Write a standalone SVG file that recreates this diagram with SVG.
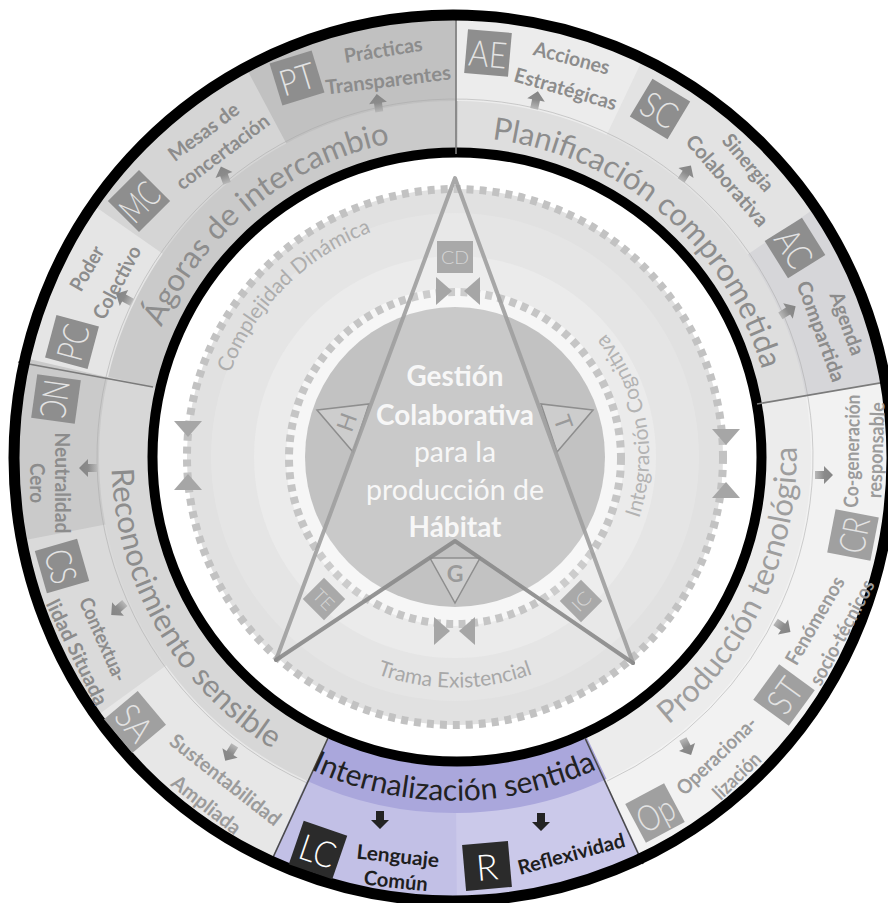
<svg xmlns="http://www.w3.org/2000/svg" width="888" height="903" viewBox="0 0 888 903">
<defs>
<style>
text{font-family:Lato,"Open Sans","Liberation Sans",sans-serif}
.ttl{font-size:31px;font-weight:400;fill:#8d8d8d}
.ttl-lt{fill:#9e9e9e}
.ttl-dk{fill:#222222;font-size:30px}
.itm{font-size:20px;font-weight:700;fill:#8c8c8c;text-anchor:middle;dominant-baseline:central}
.itm-lt{fill:#9b9b9b}
.itm-dk{fill:#1e1e1e}
.bx{fill:#8e8e8e}
.bx-lt{fill:#a0a0a0}
.bx-dk{fill:#2b2b2b}
.bxt{font-size:36px;font-weight:300;fill:#e3e3e3;text-anchor:middle;dominant-baseline:central}
.bxt-dk{fill:#ffffff}
.inlbl{font-size:21px;fill:#adadad}
.core{font-size:28px;fill:#f7f7f7;text-anchor:middle}
.div{stroke:#7b7b7b;stroke-width:1.6}
.div-dk{stroke:#4a4a4a}
.ringarr{fill:#a6a6a6}
.arr{fill:url(#stemGrad)}
.arr-dk{fill:#232323}
.tri{fill:#cdcdcd;stroke:#8e8e8e;stroke-width:1.5}
.tril{font-size:23px;fill:#9a9a9a;text-anchor:middle;dominant-baseline:central}
.minibx{fill:#a9a9a9}
.minit{font-size:18px;font-weight:300;fill:#d6d6d6;text-anchor:middle;dominant-baseline:central}
</style>
<clipPath id="outerClip"><ellipse cx="453" cy="458" rx="436" ry="440"/></clipPath>
<linearGradient id="stemGrad" x1="0" y1="0" x2="0" y2="1">
<stop offset="0" stop-color="#858585"/>
<stop offset="0.5" stop-color="#8b8b8b"/>
<stop offset="1" stop-color="#b8b8b8"/>
</linearGradient>
<path id="arrowShape" d="M0,-9 L9,0 L4,0 L4,9 L-4,9 L-4,0 L-9,0 Z"/>
<!-- text baselines: clockwise arcs start at 180deg, counter-clockwise arcs start at 200deg -->
<path id="pTitleCW" d="M -320 0 A 320 320 0 1 1 320 0 A 320 320 0 1 1 -320 0"/>
<path id="pTitleCCW" d="M -321.37 -116.97 A 342 342 0 1 0 321.37 116.97 A 342 342 0 1 0 -321.37 -116.97"/>
<path id="pInCW" d="M -240 0 A 240 240 0 1 1 240 0 A 240 240 0 1 1 -240 0"/>
<path id="pInCCW194" d="M -182.30 -66.35 A 194 194 0 1 0 182.30 66.35 A 194 194 0 1 0 -182.30 -66.35"/>
<path id="pInCCW230" d="M -216.13 -78.66 A 230 230 0 1 0 216.13 78.66 A 230 230 0 1 0 -216.13 -78.66"/>
</defs>

<rect width="888" height="903" fill="#ffffff"/>

<!-- outer ring: item bands (wedges drawn as dashed wide strokes, 1deg = 3.927px) -->
<g id="ring-bands" clip-path="url(#outerClip)">
<g transform="translate(453,457)" fill="none" stroke-width="450">
<circle r="225" stroke="#e5e5e5" stroke-dasharray="89.53 3000" transform="rotate(192.4)"/>
<circle r="225" stroke="#d5d5d5" stroke-dasharray="107.6 3000" transform="rotate(215)"/>
<circle r="225" stroke="#c1c1c1" stroke-dasharray="113.5 3000" transform="rotate(242)"/>
<circle r="225" stroke="#ececec" stroke-dasharray="99.75 3000" transform="rotate(270.5)"/>
<circle r="225" stroke="#e3e3e3" stroke-dasharray="119.38 3000" transform="rotate(295.5)"/>
<circle r="225" stroke="#d6d6d9" stroke-dasharray="98.57 3000" transform="rotate(325.5)"/>
<circle r="225" stroke="#f2f2f2" stroke-dasharray="294.52 3000" transform="rotate(350.2)"/>
<circle r="225" stroke="#cbc9ea" stroke-dasharray="98.57 3000" transform="rotate(64.8)"/>
<circle r="225" stroke="#c2c0e6" stroke-dasharray="98.96 3000" transform="rotate(89.5)"/>
<circle r="225" stroke="#e7e7e7" stroke-dasharray="118.2 3000" transform="rotate(114.3)"/>
<circle r="225" stroke="#dadada" stroke-dasharray="99.75 3000" transform="rotate(144)"/>
<circle r="225" stroke="#cacaca" stroke-dasharray="94.25 3000" transform="rotate(169)"/>
</g>
</g>

<!-- outer ring: title bands (1deg = 3.1067px) -->
<g id="title-bands" transform="translate(455,457)" fill="none" stroke-width="356">
<circle r="178" stroke="#cacaca" stroke-dasharray="243.25 3000" transform="rotate(192.6)"/>
<circle r="178" stroke="#dedede" stroke-dasharray="248.85 3000" transform="rotate(270.5)"/>
<circle r="178" stroke="#ececec" stroke-dasharray="233.0 3000" transform="rotate(350.2)"/>
<circle r="178" stroke="#aaa7dc" stroke-dasharray="155.02 3000" transform="rotate(64.8)"/>
<circle r="178" stroke="#d7d7d7" stroke-dasharray="244.5 3000" transform="rotate(114.3)"/>
<circle r="358" stroke="#a9a9a9" stroke-width="0.8" opacity="0.6" stroke-dasharray="1940 400" transform="rotate(114.3)"/>
</g>

<!-- inner field and ring outlines -->
<circle cx="457" cy="457" r="304.5" fill="#ffffff" stroke="#000000" stroke-width="10"/>

<g id="dividers">
<line class="div" x1="456" y1="154" x2="456" y2="16"/>
<line class="div" x1="153" y1="387" x2="18" y2="362"/>
<line class="div div-dk" x1="328" y1="738" x2="270" y2="864"/>
<line class="div div-dk" x1="585" y1="738" x2="643" y2="864"/>
<line class="div" x1="757" y1="404" x2="892" y2="381"/>
</g>

<ellipse cx="453" cy="458" rx="439" ry="443" fill="none" stroke="#000000" stroke-width="11"/>

<!-- sector titles -->
<g id="sector-titles" text-anchor="middle">
<text class="ttl" transform="translate(454,457)"><textPath href="#pTitleCW" startOffset="14.22%">Ágoras de intercambio</textPath></text>
<text class="ttl" transform="translate(454,457)"><textPath href="#pTitleCW" startOffset="36.25%">Planificación comprometida</textPath></text>
<text class="ttl ttl-lt" transform="translate(454,457)"><textPath href="#pTitleCCW" startOffset="48.67%">Producción tecnológica</textPath></text>
<text class="ttl ttl-dk" transform="translate(454,457)"><textPath href="#pTitleCCW" startOffset="30.56%">Internalización sentida</textPath></text>
<text class="ttl" transform="translate(454,457)"><textPath href="#pTitleCCW" startOffset="13.89%">Reconocimiento sensible</textPath></text>
</g>

<!-- outer ring items -->
<g id="node-PT">
<g transform="translate(297,78) rotate(-17)"><rect class="bx" x="-22" y="-22" width="44" height="44"/><text class="bxt" textLength="36" lengthAdjust="spacingAndGlyphs">PT</text></g>
<text class="itm" transform="translate(383,49) rotate(-9)" textLength="79" lengthAdjust="spacingAndGlyphs">Prácticas</text>
<text class="itm" transform="translate(388,79) rotate(-7)" textLength="126" lengthAdjust="spacingAndGlyphs">Transparentes</text>
</g>
<g id="node-MC">
<g transform="translate(139,201) rotate(-45)"><rect class="bx" x="-22" y="-22" width="44" height="44"/><text class="bxt" textLength="40" lengthAdjust="spacingAndGlyphs">MC</text></g>
<text class="itm" transform="translate(203,131) rotate(-37)" textLength="83" lengthAdjust="spacingAndGlyphs">Mesas de</text>
<text class="itm" transform="translate(222,151) rotate(-37)" textLength="111" lengthAdjust="spacingAndGlyphs">concertación</text>
</g>
<g id="node-PC">
<g transform="translate(72,342) rotate(-75)"><rect class="bx" x="-22" y="-22" width="44" height="44"/><text class="bxt" textLength="36" lengthAdjust="spacingAndGlyphs">PC</text></g>
<text class="itm" transform="translate(86,268) rotate(-60)" textLength="48" lengthAdjust="spacingAndGlyphs">Poder</text>
<text class="itm" transform="translate(116,282) rotate(-62)" textLength="80" lengthAdjust="spacingAndGlyphs">Colectivo</text>
</g>
<g id="node-AE">
<g transform="translate(488,53) rotate(5)"><rect class="bx" x="-22" y="-22" width="44" height="44"/><text class="bxt" textLength="38" lengthAdjust="spacingAndGlyphs">AE</text></g>
<text class="itm" transform="translate(572,57) rotate(15)" textLength="78" lengthAdjust="spacingAndGlyphs">Acciones</text>
<text class="itm" transform="translate(566,88) rotate(16)" textLength="106" lengthAdjust="spacingAndGlyphs">Estratégicas</text>
</g>
<g id="node-SC">
<g transform="translate(660,109) rotate(31)"><rect class="bx" x="-22" y="-22" width="44" height="44"/><text class="bxt" textLength="36" lengthAdjust="spacingAndGlyphs">SC</text></g>
<text class="itm" transform="translate(749,162) rotate(50)" textLength="68" lengthAdjust="spacingAndGlyphs">Sinergia</text>
<text class="itm" transform="translate(728,180) rotate(49)" textLength="114" lengthAdjust="spacingAndGlyphs">Colaborativa</text>
</g>
<g id="node-AC">
<g transform="translate(795,248) rotate(58)"><rect class="bx" x="-22" y="-22" width="44" height="44"/><text class="bxt" textLength="38" lengthAdjust="spacingAndGlyphs">AC</text></g>
<text class="itm" transform="translate(848,323) rotate(70)" textLength="66" lengthAdjust="spacingAndGlyphs">Agenda</text>
<text class="itm" transform="translate(822,331) rotate(70)" textLength="106" lengthAdjust="spacingAndGlyphs">Compartida</text>
</g>
<g id="node-CR">
<g transform="translate(853,535) rotate(-79)"><rect class="bx bx-lt" x="-22" y="-22" width="44" height="44"/><text class="bxt" textLength="36" lengthAdjust="spacingAndGlyphs">CR</text></g>
<text class="itm itm-lt" transform="translate(851,451) rotate(-89)" textLength="113" lengthAdjust="spacingAndGlyphs">Co-generación</text>
<text class="itm itm-lt" transform="translate(875,450) rotate(-88)" textLength="96" lengthAdjust="spacingAndGlyphs">responsable</text>
</g>
<g id="node-ST">
<g transform="translate(784,695) rotate(-54)"><rect class="bx bx-lt" x="-22" y="-22" width="44" height="44"/><text class="bxt" textLength="34" lengthAdjust="spacingAndGlyphs">ST</text></g>
<text class="itm itm-lt" transform="translate(814,620) rotate(-60)" textLength="98" lengthAdjust="spacingAndGlyphs">Fenómenos</text>
<text class="itm itm-lt" transform="translate(841,632) rotate(-62)" textLength="116" lengthAdjust="spacingAndGlyphs">socio-técnicos</text>
</g>
<g id="node-Op">
<g transform="translate(655,813) rotate(-28)"><rect class="bx bx-lt" x="-22" y="-22" width="44" height="44"/><text class="bxt" textLength="38" lengthAdjust="spacingAndGlyphs">Op</text></g>
<text class="itm itm-lt" transform="translate(716,755) rotate(-44)" textLength="103" lengthAdjust="spacingAndGlyphs">Operaciona-</text>
<text class="itm itm-lt" transform="translate(736,775) rotate(-44)" textLength="58" lengthAdjust="spacingAndGlyphs">lización</text>
</g>
<g id="node-LC">
<g transform="translate(318,850) rotate(19)"><rect class="bx bx-dk" x="-23" y="-23" width="46" height="46"/><text class="bxt bxt-dk" textLength="36" lengthAdjust="spacingAndGlyphs">LC</text></g>
<text class="itm itm-dk" transform="translate(398,855) rotate(6)" textLength="83" lengthAdjust="spacingAndGlyphs">Lenguaje</text>
<text class="itm itm-dk" transform="translate(396,880) rotate(6)" textLength="64" lengthAdjust="spacingAndGlyphs">Común</text>
</g>
<g id="node-R">
<g transform="translate(487,866) rotate(-5)"><rect class="bx bx-dk" x="-23" y="-23" width="46" height="46"/><text class="bxt bxt-dk">R</text></g>
<text class="itm itm-dk" transform="translate(571,853) rotate(-15)" textLength="110" lengthAdjust="spacingAndGlyphs">Reflexividad</text>
</g>
<g id="node-NC">
<g transform="translate(56,399) rotate(98)"><rect class="bx" x="-22" y="-22" width="44" height="44"/><text class="bxt" textLength="38" lengthAdjust="spacingAndGlyphs">NC</text></g>
<text class="itm" transform="translate(63,483) rotate(90)" textLength="101" lengthAdjust="spacingAndGlyphs">Neutralidad</text>
<text class="itm" transform="translate(38,483) rotate(90)" textLength="40" lengthAdjust="spacingAndGlyphs">Cero</text>
</g>
<g id="node-CS">
<g transform="translate(62,566) rotate(74)"><rect class="bx" x="-22" y="-22" width="44" height="44"/><text class="bxt" textLength="34" lengthAdjust="spacingAndGlyphs">CS</text></g>
<text class="itm" transform="translate(104,639) rotate(66)" textLength="90" lengthAdjust="spacingAndGlyphs">Contextua-</text>
<text class="itm" transform="translate(78,652) rotate(64)" textLength="115" lengthAdjust="spacingAndGlyphs">lidad Situada</text>
</g>
<g id="node-SA">
<g transform="translate(135,722) rotate(50)"><rect class="bx bx-lt" x="-22" y="-22" width="44" height="44"/><text class="bxt" textLength="36" lengthAdjust="spacingAndGlyphs">SA</text></g>
<text class="itm itm-lt" transform="translate(226,779) rotate(38)" textLength="135" lengthAdjust="spacingAndGlyphs">Sustentabilidad</text>
<text class="itm itm-lt" transform="translate(207,804) rotate(38)" textLength="82" lengthAdjust="spacingAndGlyphs">Ampliada</text>
</g>

<!-- inner field: concentric bands -->
<g id="inner-field">
<circle cx="455" cy="457" r="268" fill="#e1e1e1"/>
<circle cx="455" cy="457" r="244" fill="#e5e5e5"/>
<circle cx="455" cy="457" r="201" fill="#ebebeb"/>
<circle cx="455" cy="457" r="169" fill="#f6f6f6"/>
<circle cx="455" cy="457" r="150" fill="#c2c2c2"/>
<circle cx="455" cy="457" r="268" fill="none" stroke="#c2c2c2" stroke-width="8" stroke-dasharray="7 6"/>
<circle cx="455" cy="458" r="166" fill="none" stroke="#c5c5c5" stroke-width="8" stroke-dasharray="7 5.5"/>
</g>

<g id="inner-labels" text-anchor="middle">
<text class="inlbl" transform="translate(455,457)"><textPath href="#pInCW" startOffset="12.5%">Complejidad Dinámica</textPath></text>
<text class="inlbl" transform="translate(455,457)" style="fill:#b3b3b3"><textPath href="#pInCCW194" startOffset="58.46%">Integración Cognitiva</textPath></text>
<text class="inlbl" transform="translate(455,457)" style="fill:#a8a8a8"><textPath href="#pInCCW230" startOffset="30.56%">Trama Existencial</textPath></text>
</g>

<!-- triangle figure -->
<g id="figure">
<polygon points="455,178 633,663 455,541 276,660" fill="#ffffff" opacity="0.12"/>
<g id="node-H">
<polygon class="tri" points="317,410 369,404 353,452"/>
<text class="tril" transform="translate(346,422) rotate(-70)">H</text>
</g>
<g id="node-T">
<polygon class="tri" points="593,410 541,404 557,452"/>
<text class="tril" transform="translate(564,422) rotate(70)">T</text>
</g>
<g id="node-G">
<polygon class="tri" points="430,558 480,558 455,603"/>
<text class="tril" x="455" y="573" font-weight="700">G</text>
</g>
<g id="node-CD">
<rect class="minibx" x="437" y="241" width="36" height="32"/>
<text class="minit" x="455" y="257" font-size="21" textLength="28" lengthAdjust="spacingAndGlyphs">CD</text>
</g>
<g id="node-TE" transform="translate(324,599) rotate(45)">
<rect class="minibx" x="-15" y="-15" width="30" height="30"/>
<text class="minit" textLength="22" lengthAdjust="spacingAndGlyphs">TE</text>
</g>
<g id="node-IC" transform="translate(581,601) rotate(-45)">
<rect class="minibx" x="-15" y="-15" width="30" height="30"/>
<text class="minit" textLength="20" lengthAdjust="spacingAndGlyphs">IC</text>
</g>
<g fill="none" stroke-linecap="round" stroke-linejoin="round">
<polyline points="276,660 455,178 633,663" stroke="#9e9e9e" stroke-width="4" opacity="0.9"/>
<polyline points="276,660 455,541 633,663" stroke="#8a8a8a" stroke-width="4" opacity="0.9"/>
</g>
</g>

<g id="core-label" class="core">
<text x="455" y="386" font-weight="700" textLength="97" lengthAdjust="spacingAndGlyphs">Gestión</text>
<text x="455" y="425" font-weight="700" textLength="158" lengthAdjust="spacingAndGlyphs">Colaborativa</text>
<text x="455" y="462" textLength="82" lengthAdjust="spacingAndGlyphs">para la</text>
<text x="455" y="500" textLength="178" lengthAdjust="spacingAndGlyphs">producción de</text>
<text x="455" y="537" font-weight="700" textLength="93" lengthAdjust="spacingAndGlyphs">Hábitat</text>
</g>

<!-- connectors: ring arrowheads and item arrows -->
<g id="connectors">
<polygon class="ringarr" points="174,421 202,421 188,437"/>
<polygon class="ringarr" points="174,490 202,490 188,474"/>
<polygon class="ringarr" points="712,429 740,429 726,445"/>
<polygon class="ringarr" points="712,498 740,498 726,482"/>
<polygon class="ringarr" points="436,277 436,305 452,291"/>
<polygon class="ringarr" points="480,277 480,305 464,291"/>
<polygon class="ringarr" points="434,617 434,645 450,631"/>
<polygon class="ringarr" points="475,617 475,645 459,631"/>
<use href="#arrowShape" class="arr" transform="translate(378,103) rotate(-8)"/>
<use href="#arrowShape" class="arr" transform="translate(224,175) rotate(-20)"/>
<use href="#arrowShape" class="arr" transform="translate(124,298) rotate(-62)"/>
<use href="#arrowShape" class="arr" transform="translate(536,100) rotate(12)"/>
<use href="#arrowShape" class="arr" transform="translate(686,173) rotate(33)"/>
<use href="#arrowShape" class="arr" transform="translate(788,311) rotate(58)"/>
<use href="#arrowShape" class="arr" transform="translate(824,475) rotate(90)"/>
<use href="#arrowShape" class="arr" transform="translate(783,627) rotate(124)"/>
<use href="#arrowShape" class="arr" transform="translate(687,747) rotate(153)"/>
<use href="#arrowShape" class="arr-dk" transform="translate(380,820) rotate(180)"/>
<use href="#arrowShape" class="arr-dk" transform="translate(541,822) rotate(180)"/>
<use href="#arrowShape" class="arr" transform="translate(88,468) rotate(-90)"/>
<use href="#arrowShape" class="arr" transform="translate(118,609) rotate(229)"/>
<use href="#arrowShape" class="arr" transform="translate(230,753) rotate(212)"/>
</g>
</svg>
